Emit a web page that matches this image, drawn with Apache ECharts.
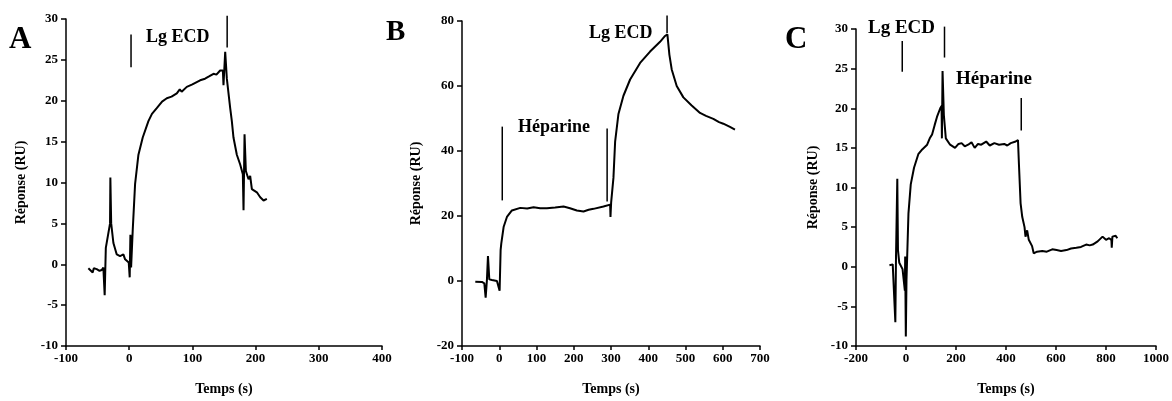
<!DOCTYPE html>
<html>
<head>
<meta charset="utf-8">
<script src="https://cdn.jsdelivr.net/npm/echarts@6/dist/echarts.min.js"></script>
<style>
html, body { margin: 0; background: #fff; }
#main { width: 1172px; height: 401px; }
</style>
</head>
<body>
<div id="main"></div>
<script>
// panel A
const timeA = [-64.6, -62, -57.8, -56, -51.4, -47, -43.5, -40.9, -38.8, -37, -30.3, -29.8, -28.5, -25, -19.7, -14.5, -9.2, -6.5, -3.9, -0.7, 0.8, 1.9, 3.0, 5.6, 9.3, 14.6, 21.4, 30.4, 36, 43.6, 52, 59.5, 67, 75.3, 80, 83, 91.1, 100, 112.2, 120, 127, 133.4, 138, 143.9, 148.2, 149.2, 151.9, 154.5, 159.8, 162.4, 165.0, 170.3, 175.6, 179.8, 180.9, 182.5, 184.6, 188.8, 191.4, 194.1, 202.0, 207.3, 212.6, 217.8];
const respA = [-0.5, -0.4, -1.0, -0.5, -0.6, -0.8, -0.7, -0.4, -3.8, 2.0, 5.0, 10.6, 5.0, 2.6, 1.2, 1.0, 1.2, 0.6, 0.4, 0.2, -1.6, 3.6, -0.4, 4.2, 9.8, 13.4, 15.5, 17.5, 18.4, 19.1, 19.9, 20.3, 20.5, 20.9, 21.4, 21.1, 21.7, 22.0, 22.5, 22.7, 23.0, 23.3, 23.2, 23.7, 23.7, 21.9, 26.0, 22.7, 19.1, 17.5, 15.5, 13.4, 12.2, 11.0, 6.6, 15.9, 11.4, 10.4, 10.8, 9.2, 8.8, 8.2, 7.8, 8.0];

// panel B
const timeB = [-64.3, -46.4, -40.1, -36.5, -33.0, -30.3, -26.7, -19.6, -6.2, -1.7, 1.0, 3.7, 5.5, 11.7, 20.6, 34.0, 56.4, 75, 92.1, 110, 127.9, 150, 172.6, 190, 208.3, 226.2, 240, 253.0, 279.8, 297.7, 298.6, 300.4, 303.9, 306.6, 311.1, 320.0, 333.4, 351.3, 378.1, 404.9, 431.7, 445.1, 451.4, 456.8, 463.0, 476.4, 494.3, 516.6, 539.0, 555, 574.7, 590, 601.5, 619.4, 632.8];
const respB = [-0.2, -0.3, -0.7, -5.1, 0.5, 7.7, 0.5, 0.3, 0.0, 0.3, -3.0, 9.6, 11.6, 16.6, 19.7, 21.7, 22.5, 22.3, 22.7, 22.4, 22.4, 22.6, 22.9, 22.4, 21.7, 21.4, 21.9, 22.2, 22.9, 23.5, 19.7, 24.2, 24.7, 31.8, 42.9, 51.4, 57.0, 62.0, 67.1, 70.6, 73.6, 75.4, 75.9, 69.6, 65.1, 60.0, 56.5, 54.0, 51.7, 50.8, 49.9, 48.9, 48.4, 47.4, 46.6];

// panel C
const timeC = [-66.2, -53.1, -46.6, -42.6, -40.0, -34.8, -32.1, -26.9, -13.8, -7.2, -4.6, -3.3, -0.7, 2.0, 9.8, 19.0, 32.1, 49.2, 64.9, 84.6, 95, 104.3, 114.8, 123.9, 137.0, 142.3, 143.6, 146.2, 151.5, 159.3, 176.4, 196.1, 210, 222.3, 235, 248.5, 262, 274.8, 288, 301.0, 320.7, 335, 353.4, 372, 392.8, 405, 419.0, 438.7, 447.9, 451.8, 458.4, 464.9, 474.1, 478.0, 484.6, 491.1, 504.3, 510.8, 523.9, 545, 563.3, 585, 602.6, 620, 642.0, 660, 681.3, 700, 720.7, 735, 746.9, 766.6, 786.2, 800, 812.5, 821.6, 823.0, 825.6, 838.7, 845.2];
const respC = [0.2, 0.3, 0.1, -7.0, 1.3, 11.1, 2.1, 0.5, -0.3, -0.3, -3.0, 1.3, -8.8, -1.6, 6.7, 10.4, 12.5, 14.2, 14.8, 15.4, 16.2, 16.7, 17.9, 18.9, 20.0, 20.3, 16.2, 24.7, 19.1, 16.2, 15.4, 15.0, 15.5, 15.6, 15.2, 15.4, 15.7, 15.0, 15.5, 15.4, 15.8, 15.3, 15.6, 15.4, 15.5, 15.3, 15.6, 15.8, 16.0, 12.9, 8.0, 6.3, 5.0, 3.8, 4.6, 3.4, 2.6, 1.7, 1.9, 2.0, 1.9, 2.2, 2.1, 2.0, 2.1, 2.3, 2.4, 2.5, 2.8, 2.7, 2.8, 3.2, 3.8, 3.4, 3.6, 3.4, 2.4, 3.8, 3.9, 3.6];

// injection marks: [x, yBottom, yTop]
const marksA = [[2.9, 24.1, 28.1], [155, 26.5, 30.4]];
const marksB = [[8.1, 24.8, 47.5], [289.6, 24.5, 46.9], [450.5, 76.3, 81.7]];
const marksC = [[-15, 24.6, 28.5], [154, 26.4, 30.3], [461, 17.2, 21.3]];

const font = 'Liberation Serif';
const chart = echarts.init(document.getElementById('main'));

function pairs(xs, ys) { return xs.map((x, i) => [x, ys[i]]); }

function xAx(i, min, max, step) {
  return {
    gridIndex: i, type: 'value', min: min, max: max, interval: step,
    name: 'Temps (s)', nameLocation: 'middle', nameGap: 36,
    nameTextStyle: { color: '#000', fontFamily: font, fontWeight: 'bold', fontSize: 14 },
    axisLine: { onZero: false, lineStyle: { color: '#000', width: 1.5 } },
    axisTick: { length: 4, lineStyle: { color: '#000', width: 1.5 } },
    axisLabel: { color: '#000', fontFamily: font, fontWeight: 'bold', fontSize: 13, margin: 6,
      formatter: v => String(v) },
    splitLine: { show: false }
  };
}
function yAx(i, min, max, step, gap) {
  return {
    gridIndex: i, type: 'value', min: min, max: max, interval: step,
    name: 'Réponse (RU)', nameLocation: 'middle', nameGap: gap,
    nameTextStyle: { color: '#000', fontFamily: font, fontWeight: 'bold', fontSize: 14 },
    axisLine: { onZero: false, lineStyle: { color: '#000', width: 1.5 } },
    axisTick: { length: 5, lineStyle: { color: '#000', width: 1.5 } },
    axisLabel: { color: '#000', fontFamily: font, fontWeight: 'bold', fontSize: 13, margin: 8,
      formatter: v => String(v) },
    splitLine: { show: false }
  };
}
function ser(i, xs, ys) {
  return {
    type: 'line', xAxisIndex: i, yAxisIndex: i, data: pairs(xs, ys),
    showSymbol: false, clip: false, animation: false,
    lineStyle: { color: '#000', width: 2 }
  };
}

chart.setOption({
  animation: false,
  grid: [
    { left: 66, top: 19, width: 316, height: 333 },
    { left: 462, top: 21, width: 298, height: 330 },
    { left: 856, top: 29, width: 305, height: 322 }
  ],
  xAxis: [xAx(0, -100, 400, 100), xAx(1, -100, 700, 100), xAx(2, -200, 1000, 200)],
  yAxis: [yAx(0, -10, 30, 5, 38), yAx(1, -20, 80, 20, 39), yAx(2, -10, 30, 5, 36)],
  series: [ser(0, timeA, respA), ser(1, timeB, respB), ser(2, timeC, respC)]
});

// annotations
const g = [];
[marksA, marksB, marksC].forEach((ms, i) => {
  ms.forEach(m => {
    const p1 = chart.convertToPixel({ gridIndex: i }, [m[0], m[1]]);
    const p2 = chart.convertToPixel({ gridIndex: i }, [m[0], m[2]]);
    g.push({ type: 'line', shape: { x1: p1[0], y1: p1[1], x2: p2[0], y2: p2[1] },
      style: { stroke: '#000', lineWidth: 1.5 } });
  });
});
function txt(s, x, y, size) {
  g.push({ type: 'text', x: x, y: y,
    style: { text: s, fill: '#000', font: 'bold ' + size + 'px "' + font + '"', textVerticalAlign: 'middle' } });
}
txt('A', 9, 40, 31);
txt('B', 386, 33, 29);
txt('C', 785, 40, 31);
txt('Lg ECD', 146, 37, 18);
txt('Lg ECD', 589, 33, 18);
txt('Héparine', 518, 127, 18);
txt('Lg ECD', 868, 28, 19);
txt('Héparine', 956, 79, 19);
chart.setOption({ graphic: g });
</script>
</body>
</html>
